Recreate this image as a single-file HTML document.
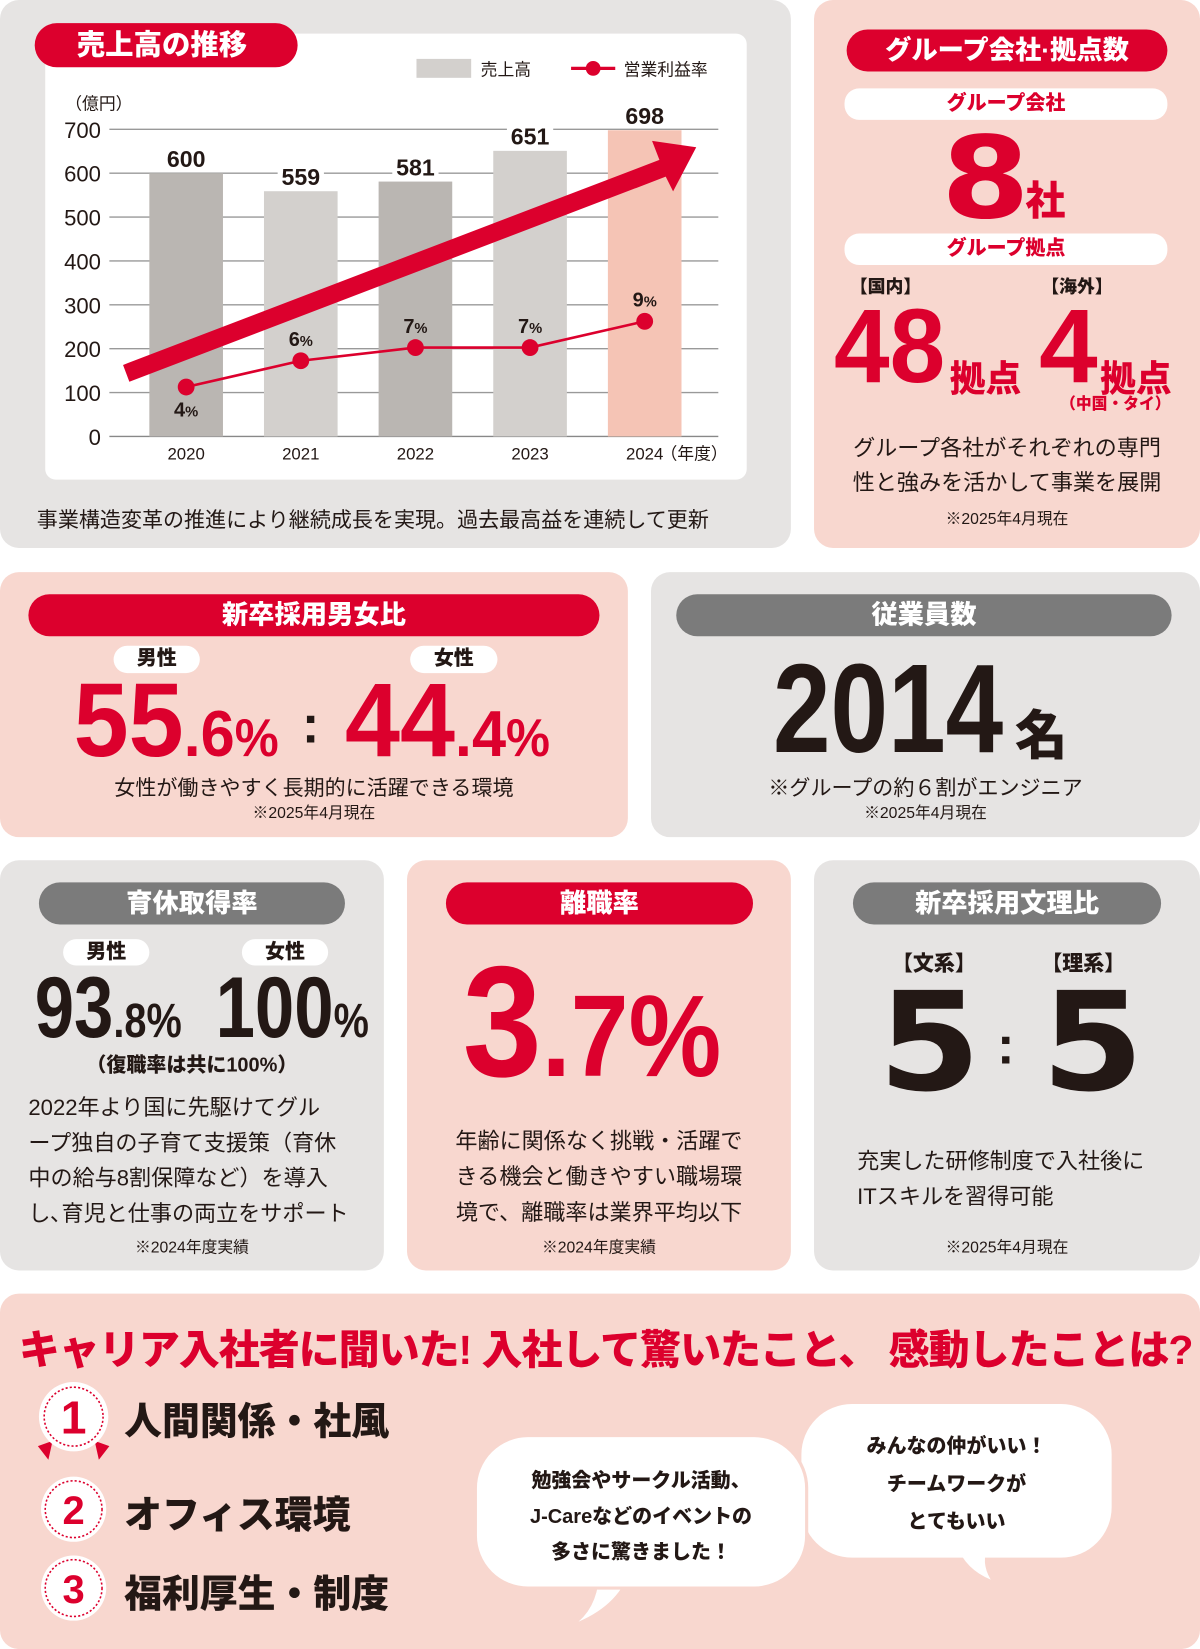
<!DOCTYPE html>
<html><head><meta charset="utf-8">
<style>
*{margin:0;padding:0;box-sizing:border-box}
html,body{width:1200px;height:1649px;overflow:hidden;background:#fff}
#wrap{position:absolute;left:0;top:0;width:1141px;height:1568px;transform:scale(1.05171);transform-origin:0 0;font-family:"Liberation Sans","Noto Sans CJK JP",sans-serif;color:#231815}
.p{position:absolute;border-radius:18px}
.g{background:#e6e4e3}.k{background:#f8d7cf}
.pill{position:absolute;border-radius:22px;color:#fff;font-weight:900;text-align:center;font-size:25px}
.red{background:#dc002d}.gr{background:#7b7b7b}
.wp{position:absolute;background:#fff;border-radius:14px;text-align:center;font-weight:900;font-size:19px}
.t{position:absolute;white-space:nowrap}
.num{position:absolute;font-weight:bold;white-space:nowrap;transform-origin:0 0}
.c{text-align:center}
</style></head><body><div id="wrap">

<div class="p g" style="left:0;top:0;width:752px;height:521px"></div>
<div class="p" style="left:43px;top:32px;width:667px;height:424px;background:#fff;border-radius:10px"></div>
<div class="pill red" style="left:33px;top:22px;width:250px;height:42px;line-height:42px;font-size:27px;text-align:left;padding-left:40px">売上高の推移</div>
<svg id="chart" style="position:absolute;left:0;top:0" width="752" height="470"></svg>
<div class="t" style="left:35px;top:478px;font-size:20px">事業構造変革の推進により継続成長を実現。過去最高益を連続して更新</div>

<div class="p k" style="left:774px;top:0;width:367px;height:521px"></div>
<div class="pill red" style="left:805px;top:28px;width:305px;height:40px;line-height:40px">グループ会社·拠点数</div>
<div class="wp" style="left:803px;top:84px;width:307px;height:30px;line-height:30px;color:#dc002d">グループ会社</div>
<div class="num" style="left:895px;top:108px;font-size:108px;color:#dc002d;font-family:'DejaVu Sans';font-weight:bold;transform:scaleX(1.12)">8</div>
<div class="t" style="left:975px;top:160px;font-size:38px;font-weight:900;color:#dc002d">社</div>
<div class="wp" style="left:803px;top:222px;width:307px;height:30px;line-height:30px;color:#dc002d">グループ拠点</div>
<div class="t" style="left:808px;top:258px;font-size:17px;font-weight:900">【国内】</div>
<div class="t" style="left:990px;top:258px;font-size:17px;font-weight:900">【海外】</div>
<div class="num" style="left:793px;top:272px;font-size:100px;color:#dc002d;transform:scaleX(.95)">48</div>
<div class="t" style="left:903px;top:333px;font-size:34px;font-weight:900;color:#dc002d">拠点</div>
<div class="num" style="left:988px;top:272px;font-size:100px;color:#dc002d">4</div>
<div class="t" style="left:1046px;top:333px;font-size:34px;font-weight:900;color:#dc002d">拠点</div>
<div class="t" style="left:1008px;top:373px;font-size:15px;font-weight:900;color:#dc002d">（中国・タイ）</div>
<div class="t c" style="left:774px;width:367px;top:410px;font-size:21px;line-height:33px">グループ各社がそれぞれの専門<br>性と強みを活かして事業を展開</div>
<div class="t c" style="left:774px;width:367px;top:482px;font-size:15px">※2025年4月現在</div>

<div class="p k" style="left:0;top:544px;width:597px;height:252px"></div>
<div class="pill red" style="left:27px;top:565px;width:543px;height:40px;line-height:40px">新卒採用男女比</div>
<div class="wp" style="left:108px;top:614px;width:82px;height:26px;line-height:26px">男性</div>
<div class="wp" style="left:390px;top:614px;width:83px;height:26px;line-height:26px">女性</div>
<div class="num" style="left:70px;top:628px;color:#dc002d;transform:scaleX(.94)"><span style="font-size:100px">55</span><span style="font-size:62px">.6</span><span style="font-size:50px">%</span></div>
<div class="t" style="left:287px;top:660px;font-size:50px;font-weight:bold">:</div>
<div class="num" style="left:328px;top:628px;color:#dc002d;transform:scaleX(.94)"><span style="font-size:100px">44</span><span style="font-size:62px">.4</span><span style="font-size:50px">%</span></div>
<div class="t c" style="left:0;width:597px;top:733px;font-size:20px">女性が働きやすく長期的に活躍できる環境</div>
<div class="t c" style="left:0;width:597px;top:762px;font-size:15px">※2025年4月現在</div>

<div class="p g" style="left:619px;top:544px;width:522px;height:252px"></div>
<div class="pill gr" style="left:643px;top:565px;width:471px;height:40px;line-height:40px">従業員数</div>
<div class="num" style="left:735px;top:605px;font-size:120px;transform:scaleX(.82)">2014</div>
<div class="t" style="left:965px;top:660px;font-size:50px;font-weight:900">名</div>
<div class="t c" style="left:619px;width:522px;top:733px;font-size:20px">※グループの約６割がエンジニア</div>
<div class="t c" style="left:619px;width:522px;top:762px;font-size:15px">※2025年4月現在</div>

<div class="p g" style="left:0;top:818px;width:365px;height:390px"></div>
<div class="pill gr" style="left:37px;top:839px;width:291px;height:40px;line-height:40px">育休取得率</div>
<div class="wp" style="left:60px;top:893px;width:82px;height:25px;line-height:25px">男性</div>
<div class="wp" style="left:230px;top:893px;width:82px;height:25px;line-height:25px">女性</div>
<div class="num" style="left:33px;top:912px;transform:scaleX(.82)"><span style="font-size:82px">93</span><span style="font-size:46px">.8%</span></div>
<div class="num" style="left:205px;top:912px;transform:scaleX(.82)"><span style="font-size:82px">100</span><span style="font-size:46px">%</span></div>
<div class="t c" style="left:0;width:365px;top:998px;font-size:19px;font-weight:900">（復職率は共に100%）</div>
<div class="t" style="left:27px;top:1037px;font-size:21px;line-height:33.5px">2022年より国に先駆けてグル<br>ープ独自の子育て支援策（育休<br>中の給与8割保障など）を導入<br>し､育児と仕事の両立をサポート</div>
<div class="t c" style="left:0;width:365px;top:1175px;font-size:15px">※2024年度実績</div>

<div class="p k" style="left:387px;top:818px;width:365px;height:390px"></div>
<div class="pill red" style="left:424px;top:839px;width:292px;height:40px;line-height:40px">離職率</div>
<div class="num" style="left:440px;top:885px;color:#dc002d;transform:scaleX(.9)"><span style="font-size:150px">3</span><span style="font-size:110px">.7%</span></div>
<div class="t c" style="left:387px;width:365px;top:1069px;font-size:21px;line-height:34px">年齢に関係なく挑戦・活躍で<br>きる機会と働きやすい職場環<br>境で、離職率は業界平均以下</div>
<div class="t c" style="left:387px;width:365px;top:1175px;font-size:15px">※2024年度実績</div>

<div class="p g" style="left:774px;top:818px;width:367px;height:390px"></div>
<div class="pill gr" style="left:811px;top:839px;width:293px;height:40px;line-height:40px">新卒採用文理比</div>
<div class="t" style="left:848px;top:900px;font-size:20px;font-weight:900">【文系】</div>
<div class="t" style="left:990px;top:900px;font-size:20px;font-weight:900">【理系】</div>
<div class="num" style="left:835px;top:915px;font-size:130px;font-family:'DejaVu Sans';transform:scaleX(1.08)">5</div>
<div class="t" style="left:948px;top:965px;font-size:50px;font-weight:bold">:</div>
<div class="num" style="left:990px;top:915px;font-size:130px;font-family:'DejaVu Sans';transform:scaleX(1.08)">5</div>
<div class="t" style="left:815px;top:1088px;font-size:21px;line-height:34px">充実した研修制度で入社後に<br>ITスキルを習得可能</div>
<div class="t c" style="left:774px;width:367px;top:1175px;font-size:15px">※2025年4月現在</div>

<div class="p k" style="left:0;top:1230px;width:1141px;height:338px"></div>
<div class="t" style="left:18px;top:1253px;font-size:39px;font-weight:900;color:#dc002d;letter-spacing:-1px">キャリア入社者に聞いた! 入社して驚いたこと、 感動したことは?</div>
<svg style="position:absolute;left:0;top:1300px" width="440" height="260">
<polygon points="36,75 50,70 46,88" fill="#dc002d"/><polygon points="104,75 90,70 94,88" fill="#dc002d"/>
<circle cx="70" cy="47" r="33" fill="#fff"/><circle cx="70" cy="47" r="28" fill="#fff" stroke="#dc002d" stroke-width="1.5" stroke-dasharray="2 2"/>
<circle cx="70" cy="135" r="31" fill="#fff"/><circle cx="70" cy="135" r="27" fill="#fff" stroke="#dc002d" stroke-width="1.5" stroke-dasharray="2 2"/>
<circle cx="70" cy="210" r="31" fill="#fff"/><circle cx="70" cy="210" r="27" fill="#fff" stroke="#dc002d" stroke-width="1.5" stroke-dasharray="2 2"/>
<text x="70" y="63" text-anchor="middle" font-size="44" font-weight="bold" fill="#dc002d" font-family="Liberation Sans">1</text>
<text x="70" y="149" text-anchor="middle" font-size="38" font-weight="bold" fill="#dc002d" font-family="Liberation Sans">2</text>
<text x="70" y="224" text-anchor="middle" font-size="38" font-weight="bold" fill="#dc002d" font-family="Liberation Sans">3</text>
</svg>
<div class="t" style="left:118px;top:1323px;font-size:36px;font-weight:900">人間関係・社風</div>
<div class="t" style="left:118px;top:1412px;font-size:36px;font-weight:900">オフィス環境</div>
<div class="t" style="left:118px;top:1487px;font-size:36px;font-weight:900">福利厚生・制度</div>
<svg style="position:absolute;left:440px;top:1320px" width="640" height="240">
<path d="M470,150 Q478,172 502,182 Q492,165 500,150Z" fill="#fff"/>
<rect x="322" y="15" width="295" height="146" rx="48" fill="#fff"/>
<path d="M130,170 Q130,205 110,222 Q150,205 160,170Z" fill="#fff"/>
<rect x="12" y="45" width="315" height="145" rx="50" fill="#fff" stroke="#f8d7cf" stroke-width="3"/>
</svg>
<div class="t c" style="left:452px;width:315px;top:1392px;font-size:19px;font-weight:900;line-height:34px">勉強会やサークル活動、<br>J-Careなどのイベントの<br>多さに驚きました！</div>
<div class="t c" style="left:762px;width:295px;top:1358px;font-size:19px;font-weight:900;line-height:36px">みんなの仲がいい！<br>チームワークが<br>とてもいい</div>

<script>
const years=["2020","2021","2022","2023","2024"];
const sales=[600,559,581,651,698];
const margin=[4,6,7,7,9];
const yTicks=[0,100,200,300,400,500,600,700];
const svg=document.getElementById('chart');
const NS='http://www.w3.org/2000/svg';
function yS(v){return 415-v*(292/700);}
function yP(p){return 418-p*12.5;}
function xC(i){return 177+i*109;}
function mk(t,a){const e=document.createElementNS(NS,t);for(const k in a)e.setAttribute(k,a[k]);svg.appendChild(e);return e;}
yTicks.forEach(v=>{
  const l=mk('line',{x1:104,x2:683,y1:yS(v),y2:yS(v),stroke:v===0?'#888':'#999','stroke-width':1.3});
  
  
  const t=mk('text',{x:96,y:yS(v)+8,'text-anchor':'end','font-size':21,fill:'#231815'});t.textContent=v;
  
  
});
const u=mk('text',{x:62,y:104,'font-size':16,fill:'#231815'});u.textContent='（億円）';


const cols=['#bab6b2','#d3d0cd','#bab6b2','#d3d0cd','#f5c4b5'];
sales.forEach((v,i)=>{
  const r=mk('rect',{x:xC(i)-35,y:yS(v),width:70,height:415-yS(v),fill:cols[i]});
  
  
  const w=mk('rect',{x:xC(i)-22,y:yS(v)-28,width:44,height:24,fill:'#fff'});
  
  
  const t=mk('text',{x:xC(i),y:yS(v)-6,'text-anchor':'middle','font-size':22,'font-weight':'bold',fill:'#231815'});t.textContent=v;
  
  
  const x=mk('text',{x:xC(i),y:437,'text-anchor':'middle','font-size':16,fill:'#231815'});x.textContent=years[i];
  
  
});
const yr=mk('text',{x:628,y:437,'font-size':16,fill:'#231815'});yr.textContent='（年度）';


const ar=mk('polygon',{points:'117,347 627,152 620,134 662,140 640,182 633,168 123,363',fill:'#dc002d'});


const pl=mk('polyline',{points:margin.map((p,i)=>xC(i)+','+yP(p)).join(' '),fill:'none',stroke:'#dc002d','stroke-width':2.5});


margin.forEach((p,i)=>{
  const c=mk('circle',{cx:xC(i),cy:yP(p),r:8,fill:'#dc002d'});
  
  
  const ly=i===0?yP(p)+28:yP(p)-14;
  const t=mk('text',{x:xC(i),y:ly,'text-anchor':'middle','font-size':19,'font-weight':'bold',fill:'#231815'});
  t.innerHTML=p+'<tspan font-size="14">%</tspan>';
  
  
});
const lr=mk('rect',{x:396,y:56,width:52,height:18,fill:'#d3d0cd'});


const lt=mk('text',{x:457,y:72,'font-size':16,fill:'#231815'});lt.textContent='売上高';


const ll=mk('line',{x1:543,x2:585,y1:65,y2:65,stroke:'#dc002d','stroke-width':3});


const lc=mk('circle',{cx:564,cy:65,r:7,fill:'#dc002d'});


const lt2=mk('text',{x:593,y:72,'font-size':16,fill:'#231815'});lt2.textContent='営業利益率';


</script>
</div></body></html>
